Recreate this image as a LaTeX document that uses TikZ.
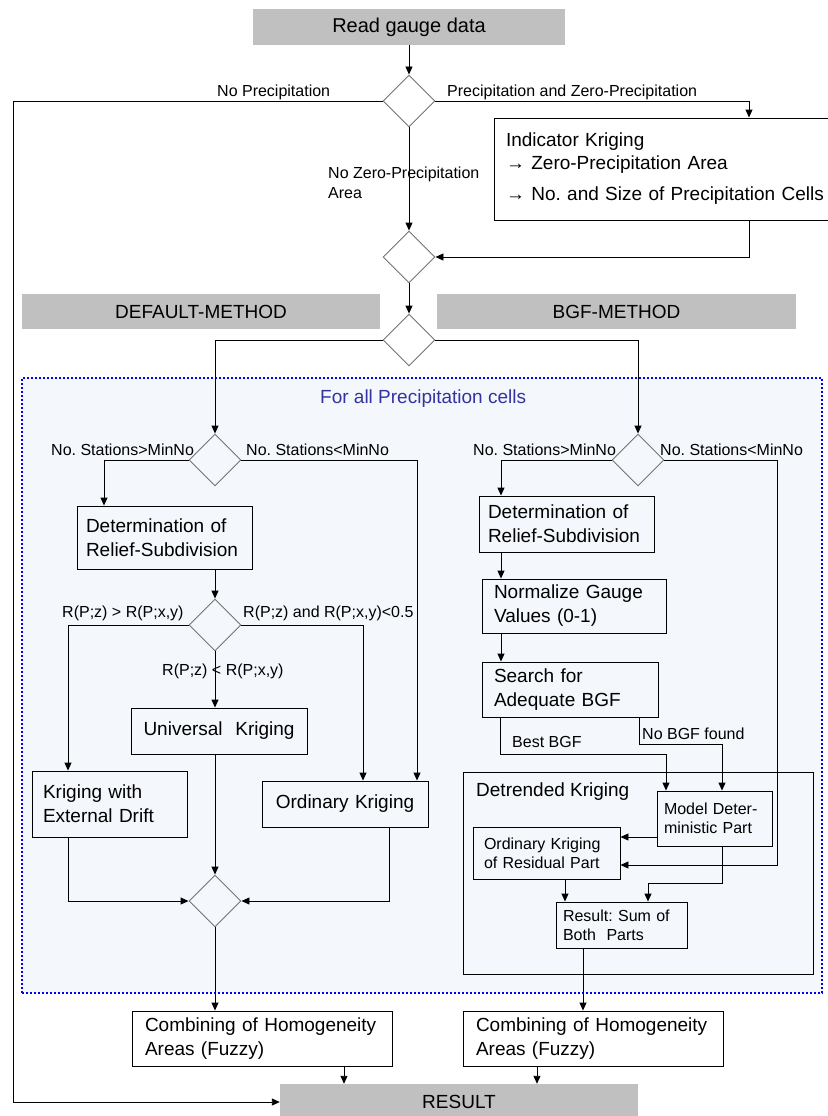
\documentclass[tikz,border=0pt]{standalone}
\usepackage{fontspec}
\setmainfont{Liberation Sans}
\usepackage{tikz}
\usetikzlibrary{arrows.meta,shapes}
\frenchspacing
\definecolor{cellblue}{RGB}{244,248,253}
\definecolor{titleblue}{RGB}{51,51,160}
\definecolor{headgrey}{RGB}{192,192,192}
\tikzstyle{edge}=[
	-,
	draw=black,
	line width=0.9pt
]
\tikzstyle{arr}=[
	edge,
	-{Triangle[length=8pt,width=7pt]}
]
\tikzstyle{dec}=[
	diamond,
	draw=black!55,
	line width=0.9pt,
	minimum width=52pt,
	minimum height=52pt,
	inner sep=0pt
]
\tikzstyle{proc}=[
	rectangle,
	draw=black,
	line width=0.9pt,
	align=left,
	inner ysep=0pt,
	font=\fontsize{19}{24}\selectfont
]
\tikzstyle{sproc}=[
	proc,
	font=\fontsize{16}{19}\selectfont
]
\tikzstyle{head}=[
	rectangle,
	fill=headgrey,
	font=\fontsize{19}{24}\selectfont
]
\tikzstyle{lbl}=[
	anchor=base west,
	inner sep=0pt,
	font=\fontsize{16}{20}\selectfont
]
\tikzstyle{cellarea}=[
	draw=blue,
	fill=cellblue,
	line width=2pt,
	dash pattern=on 2pt off 2pt
]

\begin{document}
\begin{tikzpicture}[x=1pt,y=-1pt]
\useasboundingbox (0,0) rectangle (827,1116);
\fill[white] (0,0) rectangle (827,1116);

% frame for the cell loop
\node[cellarea, minimum width=800pt, minimum height=615pt] (cells) at (422,685.5) {};
\node[lbl, font=\fontsize{19}{24}\selectfont, text=titleblue] (celltitle) at (320,403) {For all Precipitation cells};

% top part
\node[head, minimum width=312pt, minimum height=36pt, font=\fontsize{20}{24}\selectfont] (read) at (409,27) {Read gauge data};
\node[dec, fill=white] (d1) at (409,101) {};
\node[proc, fill=white, font=\fontsize{19}{24}\selectfont, text width=360pt, inner xsep=12pt, minimum height=102pt] (ind) at (686,169)
    {Indicator Kriging\\[-1pt]→ Zero-Precipitation Area\\[7pt]→ No. and Size of Precipitation Cells};
\node[dec, fill=white] (d2) at (409,257) {};
\node[dec, fill=white] (d3) at (409,340) {};
\node[head, minimum width=358pt, minimum height=35pt] (defm) at (201,311.5) {DEFAULT-METHOD};
\node[head, minimum width=359pt, minimum height=35pt] (bgfm) at (616.5,311.5) {BGF-METHOD};

\node[lbl] (lnp) at (217,96) {No Precipitation};
\node[lbl] (lpz) at (447,96) {Precipitation and Zero-Precipitation};
\node[lbl, anchor=north west, align=left] (lnz) at (328,167) {No Zero-Precipitation\\Area};

% default method
\node[dec] (d4) at (215,460) {};
\node[lbl] (lgtl) at (51,455) {No. Stations>MinNo};
\node[lbl] (lltl) at (246,455) {No. Stations<MinNo};
\node[proc, text width=157pt, inner xsep=9pt, minimum height=63pt] (detL) at (164.5,537.5) {Determination of\\Relief-Subdivision};
\node[dec] (d6) at (215,625) {};
\node[lbl] (lzgt) at (62,617) {R(P;z) > R(P;x,y)};
\node[lbl] (lzand) at (243,617) {R(P;z) and R(P;x,y)<0.5};
\node[lbl] (lzlt) at (162,675) {R(P;z) < R(P;x,y)};
\node[proc, text width=152pt, inner xsep=12pt, minimum height=46pt, align=center] (uk) at (219,731) {Universal\ \ Kriging};
\node[proc, text width=133pt, inner xsep=11pt, minimum height=66pt] (ked) at (109.5,804) {Kriging with\\External Drift};
\node[proc, text width=142pt, inner xsep=12pt, minimum height=46pt, align=center] (okL) at (345,804) {Ordinary Kriging};
\node[dec] (d7) at (215,901) {};

% bgf method
\node[dec] (d5) at (638,460) {};
\node[lbl] (lgtr) at (473,455) {No. Stations>MinNo};
\node[lbl] (lltr) at (660,455) {No. Stations<MinNo};
\node[proc, text width=157pt, inner xsep=9pt, minimum height=56pt] (detR) at (566.5,524) {Determination of\\Relief-Subdivision};
\node[proc, text width=160pt, inner xsep=12pt, minimum height=54pt] (norm) at (574,606) {Normalize Gauge\\Values (0-1)};
\node[proc, text width=152pt, inner xsep=12pt, minimum height=55pt] (search) at (570,689.5) {Search for\\Adequate BGF};
\node[lbl] (lbest) at (512,747) {Best BGF};
\node[lbl] (lnobgf) at (642,739) {No BGF found};
\node[proc, minimum width=350pt, minimum height=202pt] (detk) at (638,873) {};
\node[lbl, font=\fontsize{19}{24}\selectfont] (detkt) at (476,796) {Detrended Kriging};
\node[sproc, text width=101pt, inner xsep=7pt, minimum height=55pt] (model) at (714.5,818.5) {Model Deter-\\ministic Part};
\node[sproc, text width=125pt, inner xsep=11pt, minimum height=52pt] (okr) at (546.5,853) {Ordinary Kriging\\of Residual Part};
\node[sproc, text width=117pt, inner xsep=7pt, minimum height=46pt] (sum) at (621.5,925) {Result: Sum of\\Both\ \ Parts};

% bottom
\node[proc, text width=234pt, inner xsep=13pt, minimum height=55pt] (combL) at (262,1038.5) {Combining of Homogeneity\\Areas (Fuzzy)};
\node[proc, text width=234pt, inner xsep=13pt, minimum height=55pt] (combR) at (593,1038.5) {Combining of Homogeneity\\Areas (Fuzzy)};
\node[head, minimum width=358pt, minimum height=36pt] (res) at (459,1102) {RESULT};

% connectors, top
\draw[arr] (read) -- (d1);
\coordinate (nwc) at (13,101);
\draw[arr] (d1.west) -- (nwc) |- (res.west);
\coordinate (nec) at (749,101);
\draw[arr] (d1.east) -- (nec) -- (nec |- ind.north);
\draw[arr] (d1) -- (d2);
\draw[arr] (nec |- ind.south) |- (d2.east);
\draw[arr] (d2) -- (d3);
\draw[arr] (d3.west) -| (d4.north);
\draw[arr] (d3.east) -| (d5.north);

% connectors, default method
\coordinate (l1) at (104,460);
\draw[arr] (d4.west) -- (l1) -- (l1 |- detL.north);
\coordinate (l2) at (417,460);
\draw[arr] (d4.east) -- (l2) -- (l2 |- okL.north);
\draw[arr] (detL.south -| d6.north) -- (d6.north);
\coordinate (l3) at (68,625);
\draw[arr] (d6.west) -- (l3) -- (l3 |- ked.north);
\coordinate (l4) at (363,625);
\draw[arr] (d6.east) -- (l4) -- (l4 |- okL.north);
\draw[arr] (d6.south) -- (d6.south |- uk.north);
\draw[arr] (uk.south -| d7.north) -- (d7.north);
\draw[arr] (l3 |- ked.south) |- (d7.west);
\coordinate (l5) at (389,901);
\draw[arr] (l5 |- okL.south) |- (d7.east);
\draw[arr] (d7.south) -- (d7.south |- combL.north);
\coordinate (l6) at (344,1102);
\draw[arr] (l6 |- combL.south) -- (l6 |- res.north);

% connectors, bgf method
\coordinate (r1) at (501,460);
\draw[arr] (d5.west) -- (r1) -- (r1 |- detR.north);
\coordinate (r2) at (777,460);
\coordinate (r3) at (777,865);
\draw[arr] (d5.east) -- (r2) -- (r3) -- (r3 -| okr.east);
\draw[arr] (r1 |- detR.south) -- (r1 |- norm.north);
\draw[arr] (r1 |- norm.south) -- (r1 |- search.north);
\coordinate (r4) at (500,754);
\coordinate (r5) at (666,754);
\draw[arr] (r4 |- search.south) -- (r4) -- (r5) -- (r5 |- model.north);
\coordinate (r6) at (639,744);
\coordinate (r7) at (722,744);
\draw[arr] (r6 |- search.south) -- (r6) -- (r7) -- (r7 |- model.north);
\coordinate (r8) at (657,837);
\draw[arr] (r8 -| model.west) -- (r8 -| okr.east);
\coordinate (r9) at (722,883);
\coordinate (r10) at (648,883);
\draw[arr] (r9 |- model.south) -- (r9) -- (r10) -- (r10 |- sum.north);
\coordinate (r11) at (565,883);
\draw[arr] (r11 |- okr.south) -- (r11 |- sum.north);
\coordinate (r12) at (583,1000);
\draw[arr] (r12 |- sum.south) -- (r12 |- combR.north);
\coordinate (r13) at (537,1100);
\draw[arr] (r13 |- combR.south) -- (r13 |- res.north);
\end{tikzpicture}
\end{document}
